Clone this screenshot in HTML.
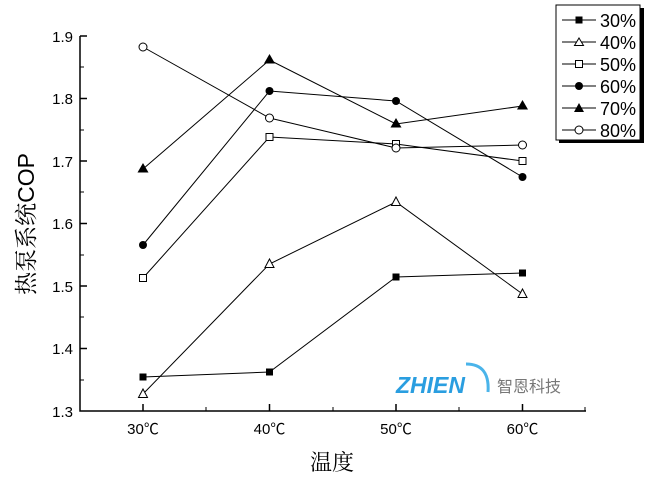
<!DOCTYPE html>
<html><head><meta charset="utf-8"><style>body{margin:0;background:#fff}</style></head><body>
<svg width="650" height="477" xmlns="http://www.w3.org/2000/svg" font-family="Liberation Sans, Arial, sans-serif">
<rect width="650" height="477" fill="#fff"/>
<g stroke="#000" stroke-width="1.5" fill="none">
<path d="M80,36V411H586"/>
<path d="M80,36h7M80,98.5h7M80,161h7M80,223.5h7M80,286h7M80,348.5h7"/>
<path d="M80,67h4M80,130h4M80,192h4M80,255h4M80,317h4M80,380h4" stroke-width="1"/>
<path d="M143,411v-7M269.5,411v-7M396,411v-7M522.5,411v-7"/>
<path d="M206,411v-4M333,411v-4M459,411v-4M585,411v-4" stroke-width="1"/>
</g>
<g font-size="15" fill="#000" text-anchor="end">
<text x="73" y="42">1.9</text><text x="73" y="104">1.8</text><text x="73" y="167">1.7</text><text x="73" y="229">1.6</text><text x="73" y="292">1.5</text><text x="73" y="354">1.4</text><text x="73" y="417">1.3</text>
</g>
<g font-size="15" fill="#000" text-anchor="middle" font-family="Liberation Sans, Noto Sans CJK SC, sans-serif">
<text x="143" y="434">30℃</text><text x="269.5" y="434">40℃</text><text x="396" y="434">50℃</text><text x="522.5" y="434">60℃</text>
</g>
<text x="332" y="470" font-size="22" text-anchor="middle" font-family="Liberation Serif, Noto Serif CJK SC, serif">温度</text>
<text transform="translate(34,224) rotate(-90)" font-size="23" text-anchor="middle" font-family="Liberation Sans, Noto Serif CJK SC, sans-serif">热泵系统COP</text>
<g stroke="#000" stroke-width="1" fill="none">
<polyline points="143,377 269.5,372 396,277 522.5,273"/>
<polyline points="143,394 269.5,264 396,202 522.5,294"/>
<polyline points="143,278 269.5,137 396,144 522.5,161"/>
<polyline points="143,245 269.5,91 396,101 522.5,177"/>
<polyline points="143,169 269.5,60 396,124 522.5,106"/>
<polyline points="143,47 269.5,118 396,148 522.5,145"/>
</g>
<g fill="#000"><rect x="139.5" y="373.5" width="7" height="7"/><rect x="266" y="368.5" width="7" height="7"/><rect x="392.5" y="273.5" width="7" height="7"/><rect x="519" y="269.5" width="7" height="7"/></g>
<g fill="#fff" stroke="#000"><path d="M143,389l4.5,8.5h-9z"/><path d="M269.5,259l4.5,8.5h-9z"/><path d="M396,197l4.5,8.5h-9z"/><path d="M522.5,289l4.5,8.5h-9z"/></g>
<g fill="#fff" stroke="#000"><rect x="139.5" y="274.5" width="7" height="7"/><rect x="266" y="133.5" width="7" height="7"/><rect x="392.5" y="140.5" width="7" height="7"/><rect x="519" y="157.5" width="7" height="7"/></g>
<g fill="#000"><circle cx="143" cy="245" r="4"/><circle cx="269.5" cy="91" r="4"/><circle cx="396" cy="101" r="4"/><circle cx="522.5" cy="177" r="4"/></g>
<g fill="#000"><path d="M143,163l5.5,9.5h-11z"/><path d="M269.5,54l5.5,9.5h-11z"/><path d="M396,118l5.5,9.5h-11z"/><path d="M522.5,100l5.5,9.5h-11z"/></g>
<g fill="#fff" stroke="#000"><circle cx="143" cy="47" r="4"/><circle cx="269.5" cy="118" r="4"/><circle cx="396" cy="148" r="4"/><circle cx="522.5" cy="145" r="4"/></g>
<rect x="559" y="8" width="85" height="135" fill="#000"/>
<rect x="556" y="5" width="84" height="135" fill="#fff" stroke="#000"/>
<g stroke="#000" stroke-width="1"><path d="M562,20h34M562,42h34M562,64h34M562,86h34M562,108h34M562,130h34"/></g>
<rect x="575.5" y="16.5" width="7" height="7" fill="#000"/>
<path d="M579,38l4.5,7.5h-9z" fill="#fff" stroke="#000"/>
<rect x="575.5" y="60.5" width="7" height="7" fill="#fff" stroke="#000"/>
<circle cx="579" cy="86" r="4" fill="#000"/>
<path d="M579,103l5,9h-10z" fill="#000"/>
<circle cx="579" cy="130" r="4" fill="#fff" stroke="#000"/>
<g font-size="18" fill="#000"><text x="600" y="27">30%</text><text x="600" y="49">40%</text><text x="600" y="71">50%</text><text x="600" y="93">60%</text><text x="600" y="115">70%</text><text x="600" y="137">80%</text></g>
<text x="396" y="393" font-size="23" font-weight="bold" font-style="italic" fill="#2a9ee0">ZHIEN</text>
<path d="M466,364q24,0 22,28" stroke="#4ab4ea" stroke-width="3" fill="none"/>
<text x="497" y="392" font-size="16" fill="#777" font-family="Noto Sans CJK SC, sans-serif">智恩科技</text>
</svg>
</body></html>
